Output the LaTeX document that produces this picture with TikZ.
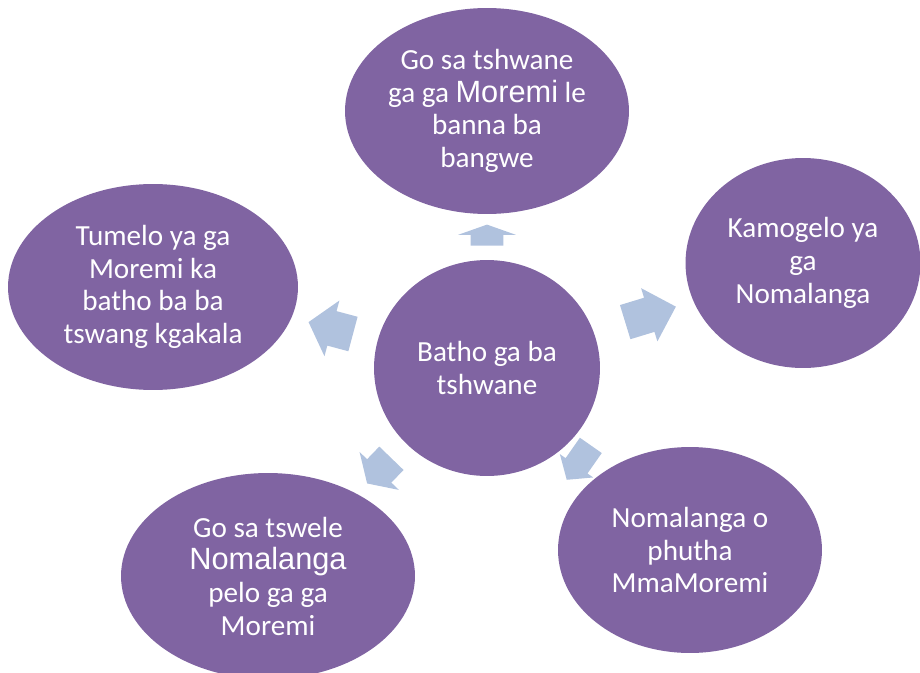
\documentclass[tikz,border=0pt]{standalone}
\usepackage{fontspec}
\setmainfont{Carlito}
\newfontfamily\arialfont{Liberation Sans}
\usepackage{tikz}
\usetikzlibrary{shapes,arrows,calc,positioning}
\definecolor{bubblefill}{HTML}{8064A2}
\definecolor{pointerfill}{HTML}{B0C2DE}

\begin{document}
\begin{tikzpicture}[x=0.02cm, y=-0.02cm,
    bubble/.style={ellipse, fill=bubblefill, text=white, inner sep=0pt, align=center, font=\fontsize{16.6}{18.6}\selectfont},
    pointer/.style={single arrow, fill=pointerfill, inner xsep=0pt}]
    \clip (0,0) rectangle (920,673);
    \node[bubble, minimum width=4.52cm, minimum height=4.32cm] (hub) at (487,368) {Batho ga ba\\tshwane};
    \node[bubble, minimum width=5.68cm, minimum height=4.12cm] (top) at (487,111) {Go sa tshwane\\ga ga {\arialfont\fontsize{17.5}{18.6}\selectfont Moremi} le\\banna ba\\bangwe};
    \node[bubble, minimum width=4.70cm, minimum height=4.20cm] (right) at (803,263) {Kamogelo ya\\ga\\Nomalanga};
    \node[bubble, minimum width=5.28cm, minimum height=4.12cm] (lowright) at (690,550) {Nomalanga o\\phutha\\MmaMoremi};
    \node[bubble, minimum width=5.88cm, minimum height=4.12cm] (lowleft) at (268,576) {Go sa tswele\\{\arialfont\fontsize{17.5}{18.6}\selectfont Nomalanga}\\pelo ga ga\\Moremi};
    \node[bubble, minimum width=5.80cm, minimum height=4.12cm] (left) at (153,287) {Tumelo ya ga\\Moremi ka\\batho ba ba\\tswang kgakala};
    \node[pointer, rotate=90, minimum height=0.42cm, minimum width=1.14cm, inner ysep=0.32cm, single arrow head extend=0.25cm, single arrow tip angle=141] (uptop) at (487,238) {};
    \node[pointer, rotate=17, minimum height=1.06cm, minimum width=1.10cm, inner ysep=0.35cm, single arrow head extend=0.2cm, single arrow tip angle=90] (upright) at (642,317) {};
    \node[pointer, rotate=165, minimum height=0.92cm, minimum width=1.14cm, inner ysep=0.35cm, single arrow head extend=0.22cm, single arrow tip angle=100] (upleft) at (338,330) {};
    \node[pointer, rotate=226, minimum height=0.70cm, minimum width=1.08cm, inner ysep=0.33cm, single arrow head extend=0.21cm, single arrow tip angle=115] (downleft) at (383,467) {};
    \node[pointer, rotate=235, minimum height=0.84cm, minimum width=0.80cm, inner ysep=0.26cm, single arrow head extend=0.14cm, single arrow tip angle=100] (downright) at (582,458) {};
\end{tikzpicture}
\end{document}
